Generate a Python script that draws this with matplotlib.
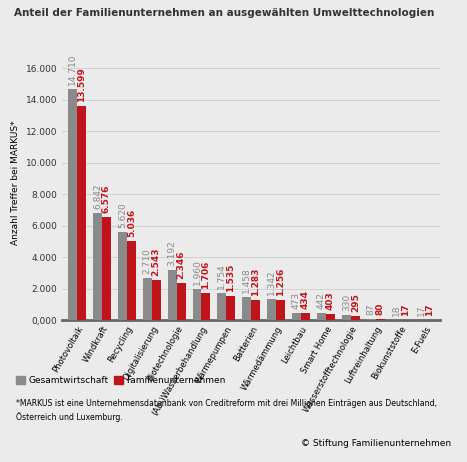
import matplotlib.pyplot as plt
import numpy as np

categories = ['Photovoltaik', 'Windkraft', 'Recycling', 'Digitalisierung', 'Biotechnologie',
              '(Ab-)Wasserbehandlung', 'Wärmepumpen', 'Batterien', 'Wärmedämmung', 'Leichtbau',
              'Smart Home', 'Wasserstofftechnologie', 'Luftreinhaltung', 'Biokunststoffe', 'E-Fuels']
gesamt = [14710, 6842, 5620, 2710, 3192, 1960, 1754, 1458, 1342, 473, 442, 330, 87, 18, 17]
familie = [13599, 6576, 5036, 2543, 2346, 1706, 1535, 1283, 1256, 434, 403, 295, 80, 17, 17]

bg = '#ebebeb'
grey = '#8a8a8a'
red = '#c0141c'

def fmt(v):
    return '{:,}'.format(v).replace(',', '.')

fig = plt.figure(figsize=(4.67, 4.62), dpi=100, facecolor=bg)
ax = fig.add_axes([0.133, 0.307, 0.81, 0.596], facecolor=bg)

x = np.arange(len(categories))
w = 0.36
ax.bar(x - w / 2, gesamt, w, color=grey, zorder=3)
ax.bar(x + w / 2, familie, w, color=red, zorder=3)
for i in range(len(categories)):
    ax.text(x[i] - w / 2, gesamt[i] + 250, fmt(gesamt[i]), rotation=90, ha='center', va='bottom',
            fontsize=6.5, color='#888888')
    ax.text(x[i] + w / 2, familie[i] + 250, fmt(familie[i]), rotation=90, ha='center', va='bottom',
            fontsize=6.5, color=red, fontweight='bold')

ax.set_xlim(-0.6, len(categories) - 0.4)
ax.set_ylim(0, 17500)
ax.set_yticks(range(0, 16001, 2000))
ax.set_yticklabels(['0,000'] + ['{:.3f}'.format(v / 1000) for v in range(2000, 16001, 2000)])
ax.tick_params(axis='y', labelsize=6.5, length=0, colors='#333333')
ax.grid(axis='y', color='#cccccc', lw=0.6, zorder=0)
ax.set_xticks(x)
ax.set_xticklabels(categories, rotation=60, ha='right', rotation_mode='anchor', fontsize=6)
ax.tick_params(axis='x', length=0, pad=3)
for s in ['top', 'right', 'left']:
    ax.spines[s].set_visible(False)
ax.spines['bottom'].set_color('#666666')
ax.spines['bottom'].set_linewidth(2)
ax.set_ylabel('Anzahl Treffer bei MARKUS*', fontsize=6.5)

fig.text(0.03, 0.965, 'Anteil der Familienunternehmen an ausgewählten Umwelttechnologien',
         fontsize=7.5, fontweight='bold', color='#333333')

fig.patches.append(plt.Rectangle((0.035, 0.168), 0.018, 0.018, transform=fig.transFigure, color=grey))
fig.text(0.06, 0.177, 'Gesamtwirtschaft', fontsize=6.5, va='center')
fig.patches.append(plt.Rectangle((0.245, 0.168), 0.018, 0.018, transform=fig.transFigure, color=red))
fig.text(0.27, 0.177, 'Familienunternehmen', fontsize=6.5, va='center')

fig.text(0.035, 0.09, '*MARKUS ist eine Unternehmensdatenbank von Creditreform mit drei Millionen Einträgen aus Deutschland,\nÖsterreich und Luxemburg.',
         fontsize=5.6, linespacing=1.6)
fig.text(0.965, 0.035, '© Stiftung Familienunternehmen', fontsize=6.5, ha='right')

fig.savefig('out.png', dpi=100, facecolor=bg)
